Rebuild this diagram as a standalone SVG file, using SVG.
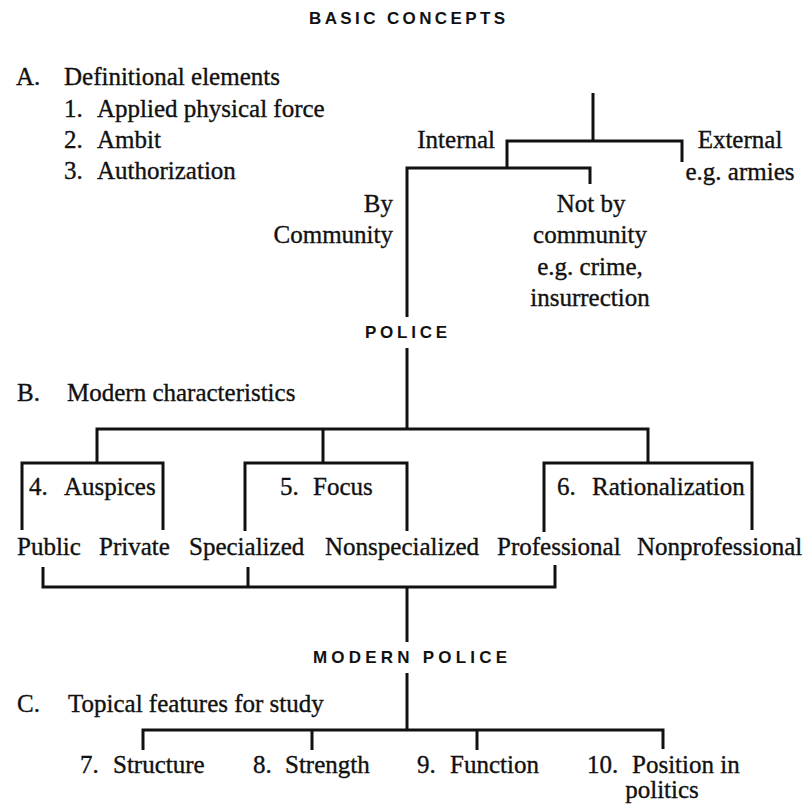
<svg xmlns="http://www.w3.org/2000/svg" width="802" height="808" viewBox="0 0 802 808">
<style>
  .t { font-family: "Liberation Serif", "Times New Roman", serif; font-size: 25px; fill: #111; stroke: #111; stroke-width: 0.35px; }
  .mid { text-anchor: middle; }
  .end { text-anchor: end; }
  .cap { font-family: "Liberation Sans", Arial, sans-serif; font-size: 17px; font-weight: bold; fill: #111; }
  .ln { fill: none; stroke: #111; stroke-width: 3; stroke-linejoin: miter; stroke-linecap: butt; }
</style>
<rect x="0" y="0" width="802" height="808" fill="#fff"/>

<g id="connectors">
  <path class="ln" d="M593,93 V141"/>
  <path class="ln" d="M507,168 V141 H682 V162"/>
  <path class="ln" d="M407,317 V168 H590 V184"/>
  <path class="ln" d="M407,348 V429"/>
  <path class="ln" d="M97,463 V429 H648 V463"/>
  <path class="ln" d="M323,429 V463"/>
  <path class="ln" d="M22,530 V463 H163 V530"/>
  <path class="ln" d="M245,531 V463 H407 V531"/>
  <path class="ln" d="M544,532 V463 H752 V530"/>
  <path class="ln" d="M43,567 V587 H555 V565"/>
  <path class="ln" d="M248,567 V587"/>
  <path class="ln" d="M407,587 V642"/>
  <path class="ln" d="M407,673 V730"/>
  <path class="ln" d="M143,750 V730 H663 V749"/>
  <path class="ln" d="M312,730 V750"/>
  <path class="ln" d="M477,730 V750"/>
</g>

<g id="title"><text class="cap" x="309" y="24" textLength="196">BASIC CONCEPTS</text></g>

<g id="sectionA">
  <text class="t" y="85"><tspan x="16">A.</tspan><tspan x="64">Definitional elements</tspan></text>
  <text class="t" y="117"><tspan x="64">1.</tspan><tspan x="97">Applied physical force</tspan></text>
  <text class="t" y="148"><tspan x="64">2.</tspan><tspan x="97">Ambit</tspan></text>
  <text class="t" y="179"><tspan x="64">3.</tspan><tspan x="97">Authorization</tspan></text>
</g>

<g id="internal"><text class="t end" x="495" y="148">Internal</text></g>
<g id="external">
  <text class="t mid" x="740" y="148">External</text>
  <text class="t mid" x="740" y="180">e.g. armies</text>
</g>
<g id="by-community">
  <text class="t end" x="393" y="212">By</text>
  <text class="t end" x="393" y="243">Community</text>
</g>
<g id="not-by-community">
  <text class="t mid" x="591" y="212">Not by</text>
  <text class="t mid" x="590" y="243">community</text>
  <text class="t mid" x="590" y="275">e.g. crime,</text>
  <text class="t mid" x="590" y="306">insurrection</text>
</g>
<g id="police"><text class="cap" x="365" y="338" textLength="82">POLICE</text></g>

<g id="sectionB"><text class="t" y="401"><tspan x="17">B.</tspan><tspan x="67">Modern characteristics</tspan></text></g>

<g id="auspices"><text class="t" y="495"><tspan x="29">4.</tspan><tspan x="64">Auspices</tspan></text></g>
<g id="focus"><text class="t" y="495"><tspan x="280">5.</tspan><tspan x="313">Focus</tspan></text></g>
<g id="rationalization"><text class="t" y="495"><tspan x="557">6.</tspan><tspan x="592">Rationalization</tspan></text></g>

<g id="public"><text class="t" x="17" y="555">Public</text></g>
<g id="private"><text class="t" x="99" y="555">Private</text></g>
<g id="specialized"><text class="t" x="189" y="555">Specialized</text></g>
<g id="nonspecialized"><text class="t" x="325" y="555">Nonspecialized</text></g>
<g id="professional"><text class="t" x="497" y="555">Professional</text></g>
<g id="nonprofessional"><text class="t" x="637" y="555">Nonprofessional</text></g>

<g id="modern-police"><text class="cap" x="313" y="663" textLength="194">MODERN  POLICE</text></g>

<g id="sectionC"><text class="t" y="712"><tspan x="17">C.</tspan><tspan x="68">Topical features for study</tspan></text></g>

<g id="structure"><text class="t" y="773"><tspan x="80">7.</tspan><tspan x="113">Structure</tspan></text></g>
<g id="strength"><text class="t" y="773"><tspan x="253">8.</tspan><tspan x="285">Strength</tspan></text></g>
<g id="function"><text class="t" y="773"><tspan x="417">9.</tspan><tspan x="450">Function</tspan></text></g>
<g id="position"><text class="t" y="773"><tspan x="587">10.</tspan><tspan x="632">Position in</tspan></text>
  <text class="t mid" x="662" y="798">politics</text></g>
</svg>
